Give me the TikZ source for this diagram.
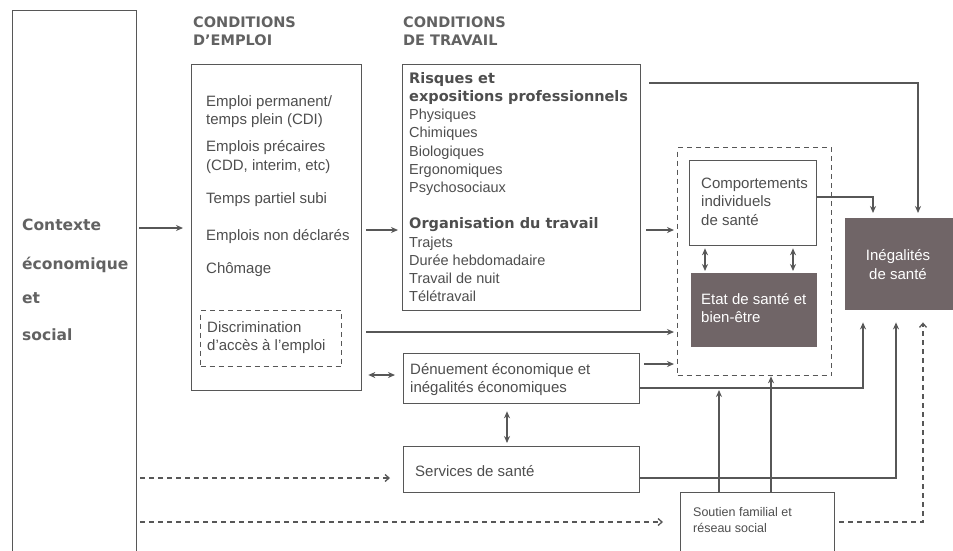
\documentclass[tikz,border=0pt]{standalone}
\usepackage{fontspec}
\setmainfont{Liberation Sans}
\newfontfamily\hdfont{DejaVu Sans}
\usetikzlibrary{arrows.meta}
\definecolor{ln}{HTML}{575757}
\definecolor{tx}{HTML}{4E4E4E}
\definecolor{hd}{HTML}{626262}
\definecolor{dk}{HTML}{706567}
\tikzset{
  box/.style={draw=ln, line width=1.3pt, anchor=north west, inner sep=0pt},
  dbox/.style={box, dash pattern=on 5pt off 4pt},
  darkbox/.style={anchor=north west, inner sep=0pt, fill=dk},
  txt/.style={anchor=west, inner sep=0pt, text=tx, align=left, font=\fontsize{15}{18.5}\selectfont},
  hdr/.style={anchor=west, inner sep=0pt, text=hd, align=left, font=\hdfont\bfseries\fontsize{14.5}{18}\selectfont},
  arr/.style={draw=ln, line width=1.3pt, -{Stealth[length=7pt,width=6pt]}},
  darr/.style={draw=ln, line width=1.3pt, {Stealth[length=7pt,width=6pt]}-{Stealth[length=7pt,width=6pt]}},
  dsh/.style={draw=ln, line width=1.3pt, dash pattern=on 5pt off 4pt, -{Straight Barb[length=4pt,width=7pt]}},
}
\begin{document}
\begin{tikzpicture}[x=1pt,y=-1pt]
\clip (0,0) rectangle (953,550);
\fill[white] (0,0) rectangle (953,550);
% boxes
\node[box, minimum width=124pt, minimum height=560pt] (ctx) at (12,10) {};
\node[box, minimum width=170pt, minimum height=326pt] (emp) at (191,64) {};
\node[dbox, minimum width=141pt, minimum height=56pt] (disc) at (200,310) {};
\node[box, minimum width=238pt, minimum height=246pt] (trav) at (402,64) {};
\node[dbox, minimum width=154pt, minimum height=228pt] (sante) at (677,147) {};
\node[box, minimum width=127pt, minimum height=85pt] (comp) at (689,160) {};
\node[darkbox, minimum width=126pt, minimum height=74pt] (etat) at (691,273) {};
\node[darkbox, minimum width=110pt, minimum height=92pt] (ineg) at (845,218) {};
\node[box, minimum width=236pt, minimum height=50pt] (den) at (403,353) {};
\node[box, minimum width=236pt, minimum height=46pt] (serv) at (403,446) {};
\node[box, minimum width=154pt, minimum height=70pt] (sout) at (680,492) {};
% texts
\node[hdr, font=\hdfont\bfseries\fontsize{15.5}{38}\selectfont] (t1) at (22,225) {Contexte};
\node[hdr, font=\hdfont\bfseries\fontsize{15.5}{38}\selectfont] (t2) at (22,265) {économique};
\node[hdr, font=\hdfont\bfseries\fontsize{15.5}{38}\selectfont] (t3) at (22,298) {et};
\node[hdr, font=\hdfont\bfseries\fontsize{15.5}{38}\selectfont] (t4) at (22,335) {social};
\node[hdr] (h1) at (193,31) {CONDITIONS\\D’EMPLOI};
\node[hdr] (h2) at (403,31) {CONDITIONS\\DE TRAVAIL};
\node[txt] (e1) at (206,111.5) {Emploi permanent/\\temps plein (CDI)};
\node[txt] (e2) at (206,157) {Emplois précaires\\(CDD, interim, etc)};
\node[txt] (e3) at (206,200) {Temps partiel subi};
\node[txt] (e4) at (206,237) {Emplois non déclarés};
\node[txt] (e5) at (206,270) {Chômage};
\node[txt] (e6) at (207,337.5) {Discrimination\\d’accès à l’emploi};
\node[txt, anchor=north west, font=\fontsize{14.5}{18.2}\selectfont] (tr) at (409,72) {{\hdfont\bfseries Risques et}\\{\hdfont\bfseries expositions professionnels}\\Physiques\\Chimiques\\Biologiques\\Ergonomiques\\Psychosociaux\\[18.2pt]{\hdfont\bfseries Organisation du travail}\\Trajets\\Durée hebdomadaire\\Travail de nuit\\Télétravail};
\node[txt] (ct) at (701,201.5) {Comportements\\individuels\\de santé};
\node[txt, text=white] (et) at (701,308) {Etat de santé et\\bien-être};
\node[txt, text=white, anchor=center, align=center] (it) at (898,264.5) {Inégalités\\de santé};
\node[txt] (dt) at (410,379.5) {Dénuement économique et\\inégalités économiques};
\node[txt] (st) at (415,471) {Services de santé};
\node[txt, font=\fontsize{12.5}{16.5}\selectfont] (so) at (693,520) {Soutien familial et\\réseau social};
% helper coordinates
\coordinate (y83) at (0,83);
\coordinate (y197) at (0,197);
\coordinate (y228) at (0,228);
\coordinate (y230) at (0,230);
\coordinate (y332) at (0,332);
\coordinate (y364) at (0,364);
\coordinate (y375) at (0,375);
\coordinate (y388) at (0,388);
\coordinate (y478) at (0,478);
\coordinate (y522) at (0,522);
\coordinate (x507) at (507,0);
\coordinate (x705) at (705,0);
\coordinate (x719) at (719,0);
\coordinate (x771) at (771,0);
\coordinate (x793) at (793,0);
\coordinate (k1) at (918,83);
\coordinate (k2) at (873,197);
\coordinate (k3) at (863,388);
\coordinate (k4) at (896,478);
\coordinate (k5) at (923,522);
% connectors
\draw[arr, shorten <=2pt, shorten >=8pt] (ctx.east |- y228) -- (emp.west |- y228);
\draw[arr, shorten <=4pt, shorten >=4pt] (emp.east |- y230) -- (trav.west |- y230);
\draw[arr, shorten >=5pt] ([xshift=8pt]trav.east |- y83) -- (k1) -- (k1 |- ineg.north);
\draw[arr, shorten >=5pt] (comp.east |- y197) -- (k2) -- (k2 |- ineg.north);
\draw[arr, shorten <=5pt, shorten >=3pt] (trav.east |- y230) -- (sante.west |- y230);
\draw[darr, shorten <=2pt, shorten >=2pt] (comp.south -| x705) -- (etat.north -| x705);
\draw[darr, shorten <=2pt, shorten >=2pt] (comp.south -| x793) -- (etat.north -| x793);
\draw[arr, shorten <=4pt, shorten >=3pt] (emp.east |- y332) -- (sante.west |- y332);
\draw[darr, shorten <=6pt, shorten >=8pt] (emp.east |- y375) -- (den.west |- y375);
\draw[arr, shorten <=4pt, shorten >=3pt] (den.east |- y364) -- (sante.west |- y364);
\draw[arr, shorten >=12pt] (den.east |- y388) -- (k3) -- (k3 |- ineg.south);
\draw[darr, shorten <=7pt, shorten >=3pt] (den.south -| x507) -- (serv.north -| x507);
\draw[arr, shorten >=12pt] (serv.east |- y478) -- (k4) -- (k4 |- ineg.south);
\draw[dsh, shorten <=3pt, shorten >=13pt] (ctx.east |- y478) -- (serv.west |- y478);
\draw[dsh, shorten <=3pt, shorten >=17pt] (ctx.east |- y522) -- (sout.west |- y522);
\draw[arr, shorten >=2pt] (sout.north -| x719) -- (y388 -| x719);
\draw[arr] (sout.north -| x771) -- (sante.south -| x771);
\draw[dsh, shorten <=4pt, shorten >=12pt] (sout.east |- y522) -- (k5) -- (k5 |- ineg.south);
\end{tikzpicture}
\end{document}
